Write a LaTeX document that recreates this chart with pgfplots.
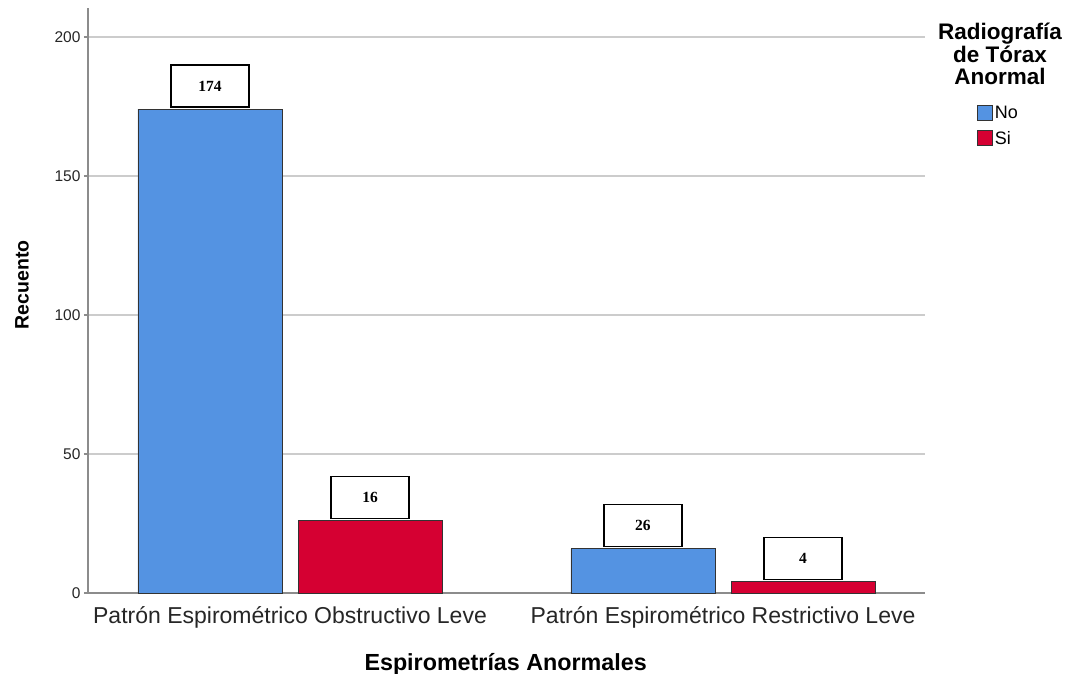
\documentclass[border=0pt]{standalone}
\usepackage{pgfplots}
\pgfplotsset{compat=1.18}
\usepackage{fontspec}
\setmainfont{Liberation Sans}
\newfontfamily\serifb{Liberation Serif}
\definecolor{blueC}{RGB}{84,147,226}
\definecolor{redC}{RGB}{213,0,50}
\begin{document}
\begin{tikzpicture}
\useasboundingbox (0,0) rectangle (1070pt,674pt);
\begin{axis}[
  at={(88pt,81pt)}, anchor=south west,
  scale only axis, width=837pt, height=585pt,
  clip=false,
  xmin=-0.4665, xmax=1.4665, ymin=0, ymax=210.4,
  axis lines*=left,
  axis line style={black!45, line width=1.3pt},
  xtick={0,1},
  xticklabels={Patrón Espirométrico Obstructivo Leve, Patrón Espirométrico Restrictivo Leve},
  x tick style={draw=none},
  x tick label style={font=\fontsize{23}{27}\selectfont, anchor=base, yshift=-26pt, text=black!85},
  ytick={0,50,100,150,200},
  y tick style={black!45, line width=1.3pt},
  tick align=outside, major tick length=4pt,
  y tick label style={font=\fontsize{15.5}{18}\selectfont, text=black!85},
  /pgf/number format/assume math mode=true,
  ymajorgrids, grid style={black!20, line width=1.3pt},
  xlabel={Espirometrías Anormales},
  xlabel style={font=\bfseries\fontsize{23.3}{27}\selectfont, at={(axis description cs:0.499,-0.1333)}, anchor=base},
  ylabel={Recuento},
  ylabel style={font=\bfseries\fontsize{19.5}{23}\selectfont, at={(axis description cs:-0.0789,0.5265)}, anchor=center},
  legend style={at={(axis description cs:1.062,0.836)}, anchor=north west, draw=none, fill=none, inner sep=0pt,
    font=\fontsize{18}{21}\selectfont, row sep=7pt, cells={anchor=west},
    /tikz/every even column/.append style={column sep=4pt}},
  every node near coord/.append style={draw=black, line width=1.5pt, fill=white, text=black,
    minimum width=78pt, minimum height=42pt, inner sep=0pt, anchor=south, yshift=1.5pt,
    font=\serifb\bfseries\fontsize{15.5}{18}\selectfont},
]
\addplot[ybar, bar width=144pt, bar shift=0pt, fill=blueC, draw=black!80, line width=0.8pt,
  point meta=explicit symbolic, nodes near coords={\pgfplotspointmeta},
  legend image code/.code={\draw[fill=blueC, draw=black!80, line width=0.8pt] (0pt,-7.5pt) rectangle (15pt,7.5pt);}]
  coordinates {(-0.1848,174)[174] (0.8152,16)[26]};
\addlegendentry{No}
\addplot[ybar, bar width=144pt, bar shift=0pt, fill=redC, draw=black!80, line width=0.8pt,
  point meta=explicit symbolic, nodes near coords={\pgfplotspointmeta},
  legend image code/.code={\draw[fill=redC, draw=black!80, line width=0.8pt] (0pt,-7.5pt) rectangle (15pt,7.5pt);}]
  coordinates {(0.1848,26)[16] (1.1848,4)[4]};
\addlegendentry{Si}
\node[align=center, anchor=north, inner sep=0pt, font=\bfseries\fontsize{22.5}{22.5}\selectfont, text=black]
  at (axis description cs:1.0896,0.9745) {Radiografía\\de Tórax\\Anormal};
\end{axis}
\end{tikzpicture}
\end{document}
